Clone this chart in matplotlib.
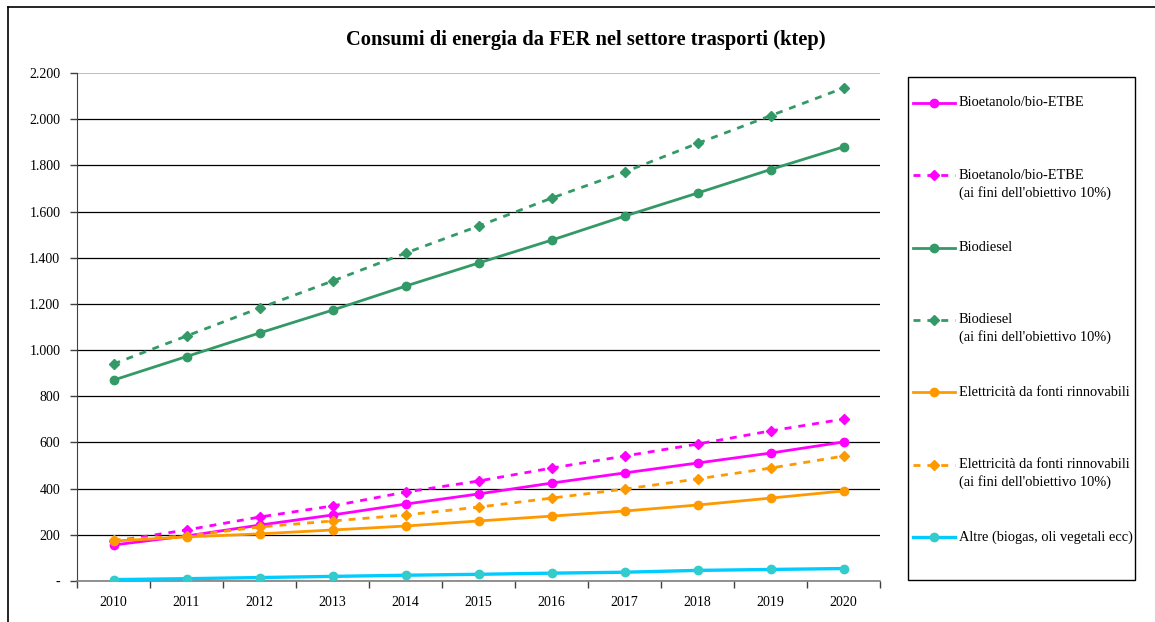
import numpy as np
import matplotlib.pyplot as plt
from matplotlib.lines import Line2D
from matplotlib.patches import Rectangle

# ========================================
# DATA (ktep)
# ========================================
years = ['2010', '2011', '2012', '2013', '2014', '2015',
         '2016', '2017', '2018', '2019', '2020']

bioetanolo = [156, 195, 242, 286, 333, 377, 424, 468, 511, 554, 602]
bioetanolo_obj = [172, 221, 277, 325, 385, 433, 489, 541, 593, 650, 701]
biodiesel = [870, 972, 1074, 1173, 1277, 1377, 1476, 1580, 1680, 1782, 1880]
biodiesel_obj = [940, 1061, 1182, 1299, 1420, 1537, 1658, 1771, 1895, 2015, 2135]
elettricita = [173, 191, 204, 221, 238, 260, 281, 303, 329, 359, 390]
elettricita_obj = [178, 195, 234, 260, 286, 320, 359, 398, 442, 489, 541]
altre = [6, 10, 15, 20, 25, 29, 34, 38, 46, 50, 54]

y_ticks = [0, 200, 400, 600, 800, 1000, 1200, 1400, 1600, 1800, 2000, 2200]
y_labels = ['-', '200', '400', '600', '800', '1.000', '1.200', '1.400',
            '1.600', '1.800', '2.000', '2.200']

MAGENTA = '#FF00FF'
GREEN = '#339966'
ORANGE = '#FF9900'
CYAN = '#00CCFF'
TEAL = '#33CCCC'

W, H = 1155, 622

plt.rcParams['font.family'] = ['Liberation Serif', 'DejaVu Serif']

fig = plt.figure(figsize=(W / 100, H / 100), dpi=100)
ax = fig.add_axes([77 / W, 41 / H, 803 / W, 508 / H])

x = np.arange(len(years))
dash = (0, (2.5, 2.5))

series = [
    (bioetanolo, 'Bioetanolo/bio-ETBE', MAGENTA, '-', 'o', MAGENTA),
    (bioetanolo_obj, "Bioetanolo/bio-ETBE\n(ai fini dell'obiettivo 10%)", MAGENTA, dash, 'D', MAGENTA),
    (biodiesel, 'Biodiesel', GREEN, '-', 'o', GREEN),
    (biodiesel_obj, "Biodiesel\n(ai fini dell'obiettivo 10%)", GREEN, dash, 'D', GREEN),
    (elettricita, 'Elettricità da fonti rinnovabili', ORANGE, '-', 'o', ORANGE),
    (elettricita_obj, "Elettricità da fonti rinnovabili\n(ai fini dell'obiettivo 10%)", ORANGE, dash, 'D', ORANGE),
    (altre, 'Altre (biogas, oli vegetali ecc)', CYAN, '-', 'o', TEAL),
]

style = []
for vals, label, col, ls, mk, mcol in series:
    ms = 6 if mk == 'o' else 5.5
    lw = 2.4 if col == CYAN else 2.0
    ax.plot(x, vals, color=col, linestyle=ls, linewidth=lw, marker=mk,
            markersize=ms, markerfacecolor=mcol, markeredgecolor=mcol,
            label=label, zorder=3)
    style.append((label, col, ls, mk, mcol, ms, lw))

# axes styling (Excel look)
ax.set_xlim(-0.5, len(years) - 0.5)
ax.set_ylim(0, 2200)
ax.set_yticks(y_ticks)
ax.set_yticklabels(y_labels, fontsize=10)
ax.set_xticks(x)
ax.set_xticklabels(years, fontsize=10)
ax.set_xticks(np.arange(-0.5, len(years)), minor=True)
ax.tick_params(axis='x', which='major', length=0, pad=11)
ax.tick_params(axis='x', which='minor', length=5, width=1, color='#404040', direction='out')
ax.tick_params(axis='y', length=5, width=1, color='#404040', direction='out', pad=7)

ax.yaxis.grid(True, color='black', linewidth=0.9)
ax.set_axisbelow(True)
ax.get_ygridlines()[-1].set_color('#c0c0c0')
ax.get_ygridlines()[-1].set_linewidth(1.5)
for side in ['top', 'right']:
    ax.spines[side].set_visible(False)
ax.spines['left'].set_color('#404040')
ax.spines['bottom'].set_color('#808080')
ax.spines['bottom'].set_linewidth(1.2)

fig.text(586 / W, 1 - 40 / H, 'Consumi di energia da FER nel settore trasporti (ktep)',
         ha='center', va='center', fontsize=14.8, fontweight='bold')

# legend box (Excel style: handle aligned with the first text line)
fig.add_artist(Rectangle((908 / W, 1 - 580 / H), 227 / W, 503 / H,
                         transform=fig.transFigure, facecolor='none',
                         edgecolor='black', linewidth=1.0))
for i, (label, col, ls, mk, mcol, ms, lw) in enumerate(style):
    yy = 1 - (103 + i * 72.3) / H
    fig.add_artist(Line2D([913 / W, 955 / W], [yy, yy], transform=fig.transFigure,
                          color=col, linestyle=ls, linewidth=lw))
    fig.add_artist(Line2D([934 / W], [yy], transform=fig.transFigure, marker=mk,
                          markersize=ms, markerfacecolor=mcol, markeredgecolor=mcol,
                          linestyle='none'))
    fig.text(959 / W, yy + 6.5 / H, label, ha='left', va='top',
             fontsize=10.4, linespacing=1.38)

# outer chart frame
fig.add_artist(Line2D([8 / W, 8 / W], [0, 1 - 7 / H],
                      transform=fig.transFigure, color='black', linewidth=1.2))
fig.add_artist(Line2D([8 / W, 1], [1 - 7 / H, 1 - 7 / H],
                      transform=fig.transFigure, color='black', linewidth=1.2))

fig.savefig('out.png', dpi=100)
